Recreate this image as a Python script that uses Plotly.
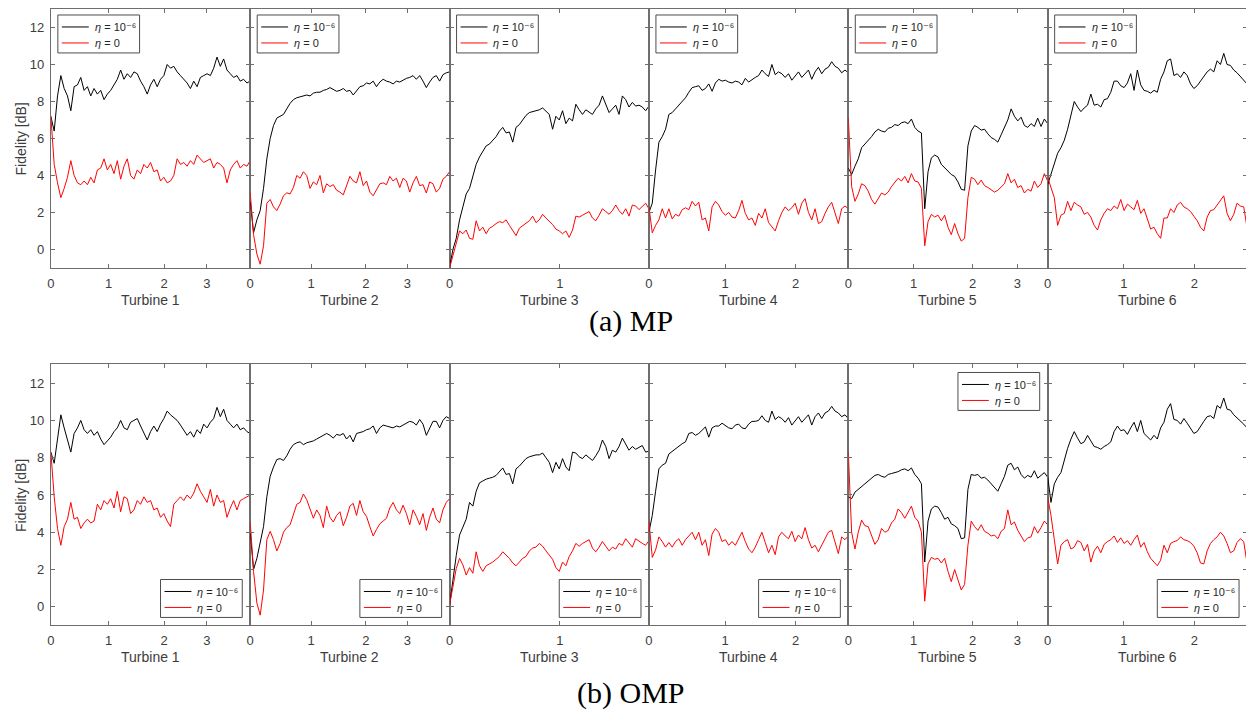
import numpy as np
import plotly.graph_objects as go

# The page body has an 8 px default margin; the figure is sized so that
# screen pixel coordinates map onto the 1254x715 window.
OFF = 8
W, H = 1254 - OFF, 715 - OFF

def fx(px):
    return min(max((px - OFF) / W, 0.0), 1.0)

def fy(py):
    return min(max((OFF + H - py) / H, 0.0), 1.0)

# ---------------- data (Fidelity in dB) ----------------
turbines = ["Turbine 1", "Turbine 2", "Turbine 3", "Turbine 4", "Turbine 5", "Turbine 6"]
row_captions = ["(a) MP", "(b) OMP"]
series_names = ["<i>η</i> = 10⁻⁶", "<i>η</i> = 0"]
y_tick_vals = [0, 2, 4, 6, 8, 10, 12]
x_tick_labels = [["0", "1", "2", "3"], ["0", "1", "2", "3"], ["0", "1"],
                 ["0", "1", "2"], ["0", "1", "2", "3"], ["0", "1", "2"]]
# tick positions as a fraction of each turbine's record length
x_tick_fracs = [[0, 0.29, 0.568, 0.782], [0, 0.305, 0.58, 0.788], [0, 0.553],
                [0, 0.382, 0.736], [0, 0.327, 0.624, 0.848], [0, 0.382, 0.736]]

# ---- (a) MP ----
mp_t1_eta6 = [7.2, 6.4, 8.3, 9.4, 8.7, 8.3, 7.5, 8.8, 8.9, 9.3, 8.6, 8.8, 8.3, 8.7, 8.4, 8.6, 8.1, 8.4, 8.6, 8.9,
              9.2, 9.7, 9.2, 9.5, 9.3, 9.6, 9.5, 9.1, 8.8, 8.4, 8.9, 9.2, 8.8, 9.2, 9.4, 10.0, 9.8, 9.9, 9.6, 9.4,
              9.2, 9.0, 8.7, 9.1, 8.8, 9.3, 9.4, 9.5, 9.4, 9.8, 10.4, 9.9, 10.3, 9.7, 9.5, 9.3, 9.4, 9.1, 9.2, 9.0, 9.1]
mp_t1_eta0 = [7.2, 4.6, 3.6, 2.8, 3.3, 3.9, 4.8, 4.0, 3.6, 3.5, 3.7, 3.5, 3.9, 3.6, 4.3, 4.4, 4.9, 4.3, 4.6, 4.1,
              4.8, 3.8, 4.5, 4.9, 4.0, 3.8, 4.3, 4.1, 4.6, 4.4, 4.7, 4.2, 4.3, 3.7, 3.9, 3.6, 3.7, 4.0, 4.9, 4.6,
              4.7, 4.5, 4.8, 4.6, 5.1, 4.9, 4.7, 4.8, 4.9, 4.4, 4.7, 4.6, 4.4, 3.6, 4.3, 4.6, 4.8, 4.4, 4.6, 4.5, 4.8]
mp_t2_eta6 = [2.6, 0.9, 1.6, 2.1, 3.3, 4.9, 6.0, 6.7, 7.1, 7.2, 7.3, 7.6, 7.9, 8.1, 8.2, 8.25, 8.3, 8.35, 8.3, 8.45,
              8.5, 8.5, 8.6, 8.65, 8.75, 8.65, 8.55, 8.6, 8.7, 8.55, 8.6, 8.35, 8.6, 8.8, 8.85, 9.0, 8.95, 9.1, 8.8, 9.05,
              9.2, 9.1, 9.05, 8.95, 9.1, 9.05, 9.15, 9.25, 9.3, 9.4, 9.2, 9.4, 9.1, 8.75, 9.05, 9.3, 9.4, 9.1, 9.45, 9.55, 9.6]
mp_t2_eta0 = [3.06, 0.8, -0.25, -0.8, 0.2, 2.5, 2.7, 2.3, 2.1, 2.45, 2.9, 3.06, 3.0, 3.35, 4.0, 3.85, 4.2, 4.0, 3.3, 3.65,
              3.5, 4.0, 3.06, 3.55, 3.4, 3.5, 3.2, 3.1, 2.95, 3.45, 3.95, 3.7, 3.6, 4.2, 3.45, 3.7, 3.1, 2.9, 3.25, 3.55,
              3.6, 3.5, 3.95, 3.7, 3.85, 3.35, 3.85, 3.7, 3.1, 3.6, 3.95, 3.45, 3.5, 3.05, 3.65, 3.55, 3.1, 3.3, 3.8, 3.95, 4.2]
mp_t3_eta6 = [-0.95, 0.0, 0.6, 1.6, 2.3, 3.0, 3.3, 3.9, 4.6, 5.0, 5.3, 5.6, 5.7, 5.9, 6.1, 6.4, 6.6, 6.3, 6.35, 5.8,
              6.6, 6.75, 7.0, 7.25, 7.4, 7.45, 7.5, 7.55, 7.65, 7.45, 7.3, 6.5, 7.2, 7.0, 7.5, 6.8, 7.1, 6.95, 7.85, 7.55,
              7.3, 7.55, 7.4, 7.3, 7.6, 7.8, 8.3, 7.9, 7.4, 7.6, 7.8, 7.3, 8.3, 8.1, 7.7, 7.95, 7.75, 7.8, 7.7, 7.5, 7.75]
mp_t3_eta0 = [-1.0, -0.3, 0.35, 1.0, 0.85, 1.05, 0.6, 0.55, 1.55, 1.0, 1.2, 0.85, 1.15, 1.25, 1.4, 1.5, 1.45, 1.6, 1.3, 1.05,
              0.75, 1.15, 1.3, 1.4, 1.55, 1.8, 1.45, 1.6, 1.9, 1.7, 1.55, 1.35, 1.1, 1.0, 0.85, 1.0, 0.65, 1.05, 1.8, 1.75,
              1.85, 1.95, 2.05, 1.7, 1.55, 1.85, 2.2, 2.05, 1.9, 2.1, 2.4, 2.1, 1.9, 2.2, 1.8, 2.4, 2.35, 2.15, 2.3, 2.5, 2.2]
mp_t4_eta6 = [2.0, 2.5, 4.3, 5.8, 6.1, 6.5, 7.3, 7.4, 7.6, 7.8, 8.0, 8.2, 8.5, 8.75, 8.8, 8.85, 8.6, 8.7, 8.95, 8.55,
              9.0, 9.2, 9.1, 9.15, 9.05, 9.0, 9.1, 9.05, 8.9, 9.25, 9.05, 9.2, 9.3, 9.4, 9.7, 9.5, 9.35, 10.0, 9.45, 9.6,
              9.5, 9.3, 9.5, 9.15, 9.4, 9.6, 9.3, 9.5, 9.7, 9.2, 9.6, 9.85, 9.5, 9.75, 9.85, 10.15, 9.9, 9.8, 9.55, 9.7, 9.55]
mp_t4_eta0 = [2.3, 0.9, 1.3, 1.6, 2.2, 1.7, 2.2, 1.65, 1.9, 1.8, 2.15, 2.25, 2.15, 2.6, 2.35, 2.55, 1.6, 1.7, 1.0, 2.3,
              2.6, 2.4, 2.05, 1.85, 2.0, 1.75, 1.7, 2.1, 2.65, 1.95, 1.6, 1.7, 1.3, 1.95, 1.7, 2.2, 1.45, 1.2, 1.0, 1.55,
              2.0, 2.3, 2.1, 2.25, 2.5, 1.9, 2.5, 2.75, 2.0, 1.6, 2.2, 1.4, 1.5, 1.95, 2.3, 2.55, 1.9, 1.4, 2.2, 2.35, 2.2]
mp_t5_eta6 = [4.4, 4.05, 4.5, 4.9, 5.5, 5.7, 5.85, 6.1, 6.35, 6.5, 6.4, 6.35, 6.55, 6.6, 6.75, 6.7, 6.85, 6.9, 6.8, 7.05,
              6.6, 6.4, 6.3, 2.2, 4.2, 4.95, 5.1, 5.0, 4.6, 4.4, 4.25, 4.05, 3.95, 3.65, 3.25, 3.2, 5.6, 6.4, 6.7, 6.6,
              6.45, 6.5, 6.25, 6.05, 5.95, 5.8, 6.2, 6.6, 7.0, 7.6, 7.2, 6.95, 7.15, 6.7, 6.6, 6.8, 6.65, 7.1, 6.65, 7.05, 6.8]
mp_t5_eta0 = [7.1, 3.4, 2.6, 3.0, 3.55, 3.45, 3.15, 2.7, 2.45, 2.75, 3.05, 2.95, 3.1, 3.4, 3.6, 3.85, 3.7, 3.95, 3.6, 4.1,
              3.7, 3.65, 3.3, 0.2, 1.5, 1.9, 1.75, 1.85, 1.55, 1.85, 1.2, 0.8, 1.4, 0.85, 0.45, 0.6, 2.8, 3.9, 3.8, 3.5,
              3.75, 3.45, 3.35, 3.2, 3.1, 3.2, 3.4, 3.55, 4.1, 3.6, 3.8, 3.35, 3.45, 3.05, 3.25, 3.15, 3.7, 3.35, 3.55, 4.1, 3.7]
mp_t6_eta6 = [3.5, 4.1, 4.7, 5.2, 5.5, 5.9, 6.5, 7.2, 8.0, 7.7, 7.45, 7.65, 7.8, 8.4, 7.8, 7.85, 7.7, 8.1, 8.15, 8.5,
              9.1, 9.1, 8.85, 8.75, 9.0, 9.5, 8.6, 9.7, 8.9, 8.6, 8.55, 8.45, 8.6, 8.5, 9.2, 9.6, 10.2, 10.3, 9.4, 9.5,
              9.3, 9.6, 9.4, 8.95, 8.7, 8.85, 9.1, 9.35, 9.6, 9.75, 9.6, 10.2, 10.0, 10.6, 10.0, 9.95, 9.7, 9.55, 9.35, 9.15, 8.95]
mp_t6_eta0 = [3.9, 3.3, 2.8, 1.3, 1.85, 1.95, 2.6, 2.1, 2.55, 2.4, 2.3, 1.9, 2.0, 1.75, 1.3, 1.05, 1.6, 1.95, 2.2, 2.1,
              2.35, 2.2, 2.7, 2.1, 2.45, 2.3, 2.15, 2.65, 1.95, 2.2, 1.6, 1.1, 1.2, 0.85, 0.6, 1.7, 1.7, 2.2, 2.0, 2.4,
              2.55, 2.3, 2.2, 2.05, 1.8, 1.55, 1.2, 1.0, 1.75, 2.1, 2.15, 2.4, 2.7, 2.9, 1.95, 1.55, 1.9, 2.5, 2.35, 2.3, 1.2]

# ---- (b) OMP ----
omp_t1_eta6 = [8.3, 7.7, 9.0, 10.3, 9.6, 8.9, 8.3, 9.3, 9.6, 10.0, 9.5, 9.3, 9.5, 9.2, 9.4, 9.0, 8.7, 8.9, 9.1, 9.4,
               9.6, 10.0, 9.6, 9.5, 9.9, 10.0, 10.1, 9.7, 9.3, 8.95, 9.4, 9.7, 9.4, 9.8, 10.1, 10.5, 10.3, 10.15, 10.0, 9.75,
               9.5, 9.2, 9.4, 9.1, 9.5, 9.3, 9.8, 9.6, 9.9, 10.1, 10.7, 10.2, 10.6, 10.0, 9.8, 9.6, 9.8, 9.5, 9.6, 9.4, 9.3]
omp_t1_eta0 = [8.3, 5.9, 4.2, 3.3, 4.3, 4.7, 5.6, 4.7, 4.8, 4.2, 4.5, 4.7, 4.5, 4.6, 5.5, 5.2, 5.7, 5.5, 5.8, 5.3,
               6.2, 5.1, 5.9, 5.8, 5.0, 5.2, 5.7, 5.5, 5.9, 5.6, 5.7, 5.2, 5.3, 4.8, 5.0, 4.6, 4.3, 5.5, 5.7, 5.9,
               5.7, 6.0, 5.8, 6.1, 6.6, 6.2, 5.9, 5.6, 6.3, 5.4, 6.0, 5.6, 5.7, 4.8, 5.3, 5.7, 5.2, 5.7, 5.8, 5.9, 6.0]
omp_t2_eta6 = [4.0, 2.0, 2.6, 3.4, 4.3, 5.9, 7.0, 7.5, 7.9, 7.95, 7.85, 8.1, 8.45, 8.7, 8.8, 8.85, 8.7, 8.8, 8.85, 8.9,
               9.0, 9.1, 9.2, 9.3, 9.2, 9.05, 9.25, 9.2, 9.3, 9.0, 9.2, 8.85, 9.3, 9.35, 9.4, 9.5, 9.55, 9.7, 9.3, 9.6,
               9.75, 9.7, 9.65, 9.6, 9.7, 9.65, 9.75, 9.85, 9.95, 9.9, 9.75, 10.05, 9.8, 9.2, 9.55, 9.95, 9.95, 9.6, 10.0, 10.2, 10.1]
omp_t2_eta0 = [4.55, 1.9, 0.2, -0.45, 0.9, 3.6, 4.05, 3.6, 3.0, 3.4, 4.0, 4.25, 4.4, 4.9, 5.5, 5.6, 6.05, 5.75, 5.2, 4.75,
               5.2, 4.9, 4.25, 5.4, 4.8, 4.55, 4.9, 5.1, 4.35, 4.8, 5.4, 5.55, 4.9, 5.7, 5.1, 4.85, 4.3, 3.8, 4.15, 4.45,
               4.6, 4.75, 5.3, 5.6, 5.2, 5.0, 5.45, 5.0, 4.4, 5.2, 4.85, 4.4, 5.0, 4.1, 4.8, 5.3, 4.7, 4.5, 5.2, 5.6, 5.8]
omp_t3_eta6 = [0.1, 1.5, 2.75, 3.85, 4.3, 4.7, 5.6, 5.4, 6.2, 6.65, 6.75, 6.85, 6.9, 6.95, 7.05, 7.25, 7.45, 7.1, 7.15, 6.6,
               7.4, 7.55, 7.75, 7.95, 8.05, 8.1, 8.15, 8.15, 8.25, 8.0, 7.75, 7.2, 7.75, 7.4, 7.95, 7.5, 7.3, 8.3, 8.25, 8.05,
               7.95, 8.15, 8.0, 7.85, 8.1, 8.4, 8.95, 8.6, 7.95, 8.4, 8.3, 8.6, 9.05, 8.75, 8.4, 8.6, 8.45, 8.55, 8.65, 8.3, 8.35]
omp_t3_eta0 = [0.1, 1.15, 2.05, 2.6, 2.25, 1.7, 2.1, 1.8, 2.95, 2.2, 1.9, 2.2, 2.3, 2.4, 2.55, 2.7, 2.95, 2.8, 2.6, 2.35,
               2.2, 2.4, 2.6, 2.7, 3.0, 3.15, 3.2, 3.4, 3.25, 3.0, 2.8, 2.55, 2.1, 1.9, 2.4, 2.2, 2.7, 3.0, 3.4, 3.25,
               3.4, 3.5, 3.6, 3.15, 2.95, 3.2, 3.5, 3.25, 3.0, 3.2, 3.1, 3.4, 3.3, 3.65, 3.45, 3.2, 3.65, 3.5, 3.4, 3.3, 3.55]
omp_t4_eta6 = [4.0, 4.9, 6.2, 7.4, 7.6, 7.7, 8.2, 8.35, 8.45, 8.6, 8.75, 8.85, 9.3, 9.35, 9.2, 9.3, 9.5, 9.65, 9.1, 9.6,
               9.7, 9.7, 9.85, 9.7, 9.6, 9.55, 9.75, 9.8, 9.6, 9.55, 9.8, 9.95, 9.95, 10.0, 10.25, 10.0, 9.9, 10.5, 10.05, 10.2,
               10.1, 9.9, 10.15, 9.75, 9.95, 10.2, 9.9, 10.1, 10.3, 9.75, 10.2, 10.4, 10.1, 10.4, 10.5, 10.75, 10.5, 10.4, 10.2, 10.3, 10.1]
omp_t4_eta0 = [4.6, 2.65, 3.05, 3.75, 3.5, 3.2, 3.45, 3.2, 3.5, 3.65, 3.3, 3.6, 3.8, 4.0, 3.6, 4.0, 3.3, 3.6, 2.75, 3.9,
               4.2, 4.0, 3.5, 3.6, 3.3, 3.5, 3.3, 3.65, 4.0, 3.5, 3.1, 2.9, 3.2, 3.6, 4.0, 3.45, 2.9, 3.3, 2.8, 3.75,
               4.0, 3.8, 3.65, 4.05, 3.5, 3.85, 3.65, 4.25, 3.6, 3.15, 3.3, 2.95, 3.3, 3.6, 4.0, 4.1, 3.45, 2.85, 3.75, 3.6, 3.8]
omp_t5_eta6 = [5.9, 5.8, 6.15, 6.3, 6.45, 6.6, 6.8, 6.9, 7.05, 7.1, 7.0, 6.95, 7.1, 7.15, 7.2, 7.25, 7.35, 7.4, 7.3, 7.45,
               7.1, 6.9, 6.6, 2.4, 4.6, 5.25, 5.4, 5.35, 5.05, 4.7, 4.8, 4.45, 4.35, 4.2, 3.65, 3.7, 6.3, 7.1, 7.05, 7.1,
               6.9, 6.95, 6.8, 6.6, 6.4, 6.2, 6.6, 7.0, 7.6, 7.7, 7.35, 7.5, 7.1, 6.9, 7.05, 6.95, 7.3, 6.9, 7.05, 7.2, 6.95]
omp_t5_eta0 = [8.3, 4.0, 3.1, 4.0, 4.65, 4.35, 4.3, 3.85, 3.35, 3.6, 4.2, 4.0, 4.1, 4.5, 4.7, 5.25, 5.05, 4.75, 5.1, 5.4,
               4.8, 4.6, 4.0, 0.3, 2.3, 2.65, 2.55, 2.6, 2.35, 2.6, 1.9, 1.35, 2.0, 1.5, 0.9, 1.2, 3.3, 4.6, 4.3, 4.1,
               4.4, 4.05, 3.95, 3.8, 3.85, 3.65, 4.05, 4.2, 5.2, 4.4, 4.55, 4.1, 3.8, 3.5, 3.7, 3.75, 4.3, 3.95, 4.25, 4.6, 4.4]
omp_t6_eta6 = [7.0, 5.6, 6.6, 6.95, 7.2, 7.9, 8.5, 9.0, 9.4, 9.05, 8.75, 8.85, 9.2, 8.9, 8.6, 8.55, 8.45, 8.6, 8.7, 8.85,
               9.4, 9.7, 9.45, 9.5, 9.25, 9.6, 9.9, 9.4, 10.0, 9.3, 9.1, 8.95, 9.2, 9.0, 9.6, 9.9, 10.6, 10.9, 10.05, 10.0,
               9.8, 10.1, 9.85, 9.55, 9.3, 9.4, 9.7, 9.95, 10.2, 10.25, 10.1, 10.8, 10.65, 11.2, 10.6, 10.55, 10.3, 10.15, 9.95, 9.8, 9.6]
omp_t6_eta0 = [5.9, 4.9, 3.6, 2.3, 3.3, 3.5, 3.6, 3.1, 3.2, 3.55, 3.45, 3.0, 3.35, 2.4, 3.0, 3.25, 2.9, 3.35, 3.5, 3.6,
               3.8, 3.45, 3.7, 3.4, 3.55, 3.3, 3.6, 3.85, 3.2, 3.45, 2.95, 2.6, 2.4, 2.2, 2.5, 3.3, 2.9, 3.4, 3.5, 3.55,
               3.75, 3.6, 3.55, 3.45, 3.25, 2.9, 2.35, 2.3, 3.0, 3.4, 3.6, 3.75, 4.0, 3.8, 3.4, 2.9, 3.0, 3.45, 3.65, 3.5, 2.35]

rows = [
    [(mp_t1_eta6, mp_t1_eta0), (mp_t2_eta6, mp_t2_eta0), (mp_t3_eta6, mp_t3_eta0),
     (mp_t4_eta6, mp_t4_eta0), (mp_t5_eta6, mp_t5_eta0), (mp_t6_eta6, mp_t6_eta0)],
    [(omp_t1_eta6, omp_t1_eta0), (omp_t2_eta6, omp_t2_eta0), (omp_t3_eta6, omp_t3_eta0),
     (omp_t4_eta6, omp_t4_eta0), (omp_t5_eta6, omp_t5_eta0), (omp_t6_eta6, omp_t6_eta0)],
]

# ---------------- layout / style (screen pixels) ----------------
panel_left = [47, 247, 447, 647, 847, 1047]
panel_w = 200
row_top = [8.0, 364.0]      # pixel y of value 13
row_bot = [267.3, 625.3]    # pixel y of value -1
legend_pos = [["tl"] * 6, ["br", "br", "br", "br", "tr", "br"]]
LEG_W, LEG_H = 82, 38

AX_COL = "#6e6e6e"
TXT_COL = "#3c3c3c"
FONT = "Liberation Sans, Arial, DejaVu Sans, sans-serif"
colors = ["#000000", "#ff0000"]

fig = go.Figure()
annotations = []
shapes = []
layout = dict(
    width=W, height=H, margin=dict(l=0, r=0, t=0, b=0, pad=0),
    paper_bgcolor="white", plot_bgcolor="white",
    font=dict(family=FONT, size=13, color=TXT_COL),
    showlegend=False,
)

for r in range(2):
    for p in range(6):
        n = r * 6 + p + 1
        sfx = "" if n == 1 else str(n)
        y6, y0 = rows[r][p]
        npts = len(y6)
        xs = np.arange(npts)
        for k, ys in enumerate([y6, y0]):
            fig.add_trace(go.Scatter(
                x=xs, y=ys, mode="lines", name=series_names[k],
                line=dict(color=colors[k], width=1),
                xaxis="x" + sfx, yaxis="y" + sfx, showlegend=False,
            ))
        layout["xaxis" + sfx] = dict(
            domain=[fx(panel_left[p]), fx(panel_left[p] + panel_w)], range=[0, npts - 1], anchor="y" + sfx,
            tickvals=[f * (npts - 1) for f in x_tick_fracs[p]], ticktext=x_tick_labels[p],
            ticks="inside", ticklen=4, tickcolor=AX_COL, mirror="ticks",
            showline=True, linecolor=AX_COL, linewidth=1,
            showgrid=False, zeroline=False,
            tickfont=dict(size=13, color=TXT_COL), ticklabelstandoff=3,
        )
        layout["yaxis" + sfx] = dict(
            domain=[fy(row_bot[r]), fy(row_top[r])], range=[-1, 13], anchor="x" + sfx,
            tickvals=y_tick_vals, showticklabels=(p == 0),
            ticks="inside", ticklen=4, tickcolor=AX_COL, mirror="ticks",
            showline=True, linecolor=AX_COL, linewidth=1,
            showgrid=False, zeroline=False,
            tickfont=dict(size=13, color=TXT_COL), ticklabelstandoff=3,
        )
        # legend box drawn in pixels
        pos = legend_pos[r][p]
        if pos == "tl":
            bx, by = panel_left[p] + 7, row_top[r] + 6
        elif pos == "tr":
            bx, by = panel_left[p] + panel_w - 8 - LEG_W, row_top[r] + 8
        else:
            bx, by = panel_left[p] + panel_w - 8 - LEG_W, row_bot[r] - 8 - LEG_H
        shapes.append(dict(type="rect", xref="paper", yref="paper",
                           x0=fx(bx), x1=fx(bx + LEG_W), y0=fy(by + LEG_H), y1=fy(by),
                           line=dict(color="#4d4d4d", width=1), fillcolor="white", layer="above"))
        for k in range(2):
            ly = by + 12 + 16 * k
            shapes.append(dict(type="line", xref="paper", yref="paper",
                               x0=fx(bx + 4), x1=fx(bx + 31), y0=fy(ly), y1=fy(ly),
                               line=dict(color=colors[k], width=1), layer="above"))
            annotations.append(dict(
                text=series_names[k], x=fx(bx + 35), y=fy(ly + 0.5), xref="paper", yref="paper",
                showarrow=False, xanchor="left", yanchor="middle",
                font=dict(size=11, color="#262626", family=FONT),
            ))
        # turbine label
        annotations.append(dict(
            text=turbines[p], x=fx(panel_left[p] + panel_w / 2),
            y=fy(row_bot[r] + 32), xref="paper", yref="paper",
            showarrow=False, font=dict(size=14, color=TXT_COL, family=FONT),
            xanchor="center", yanchor="middle",
        ))
    # y label
    annotations.append(dict(
        text="Fidelity [dB]", x=fx(17), y=fy((row_top[r] + row_bot[r]) / 2),
        xref="paper", yref="paper", showarrow=False, textangle=-90,
        font=dict(size=14, color=TXT_COL, family=FONT), xanchor="center", yanchor="middle",
    ))
    # caption
    annotations.append(dict(
        text=row_captions[r], x=fx(629), y=fy([320, 693][r]),
        xref="paper", yref="paper", showarrow=False,
        font=dict(size=30, color="#000000", family="Liberation Serif, DejaVu Serif, serif"),
        xanchor="center", yanchor="middle",
    ))

layout["annotations"] = annotations
layout["shapes"] = shapes
fig.update_layout(**layout)
fig.write_html("out.html")
